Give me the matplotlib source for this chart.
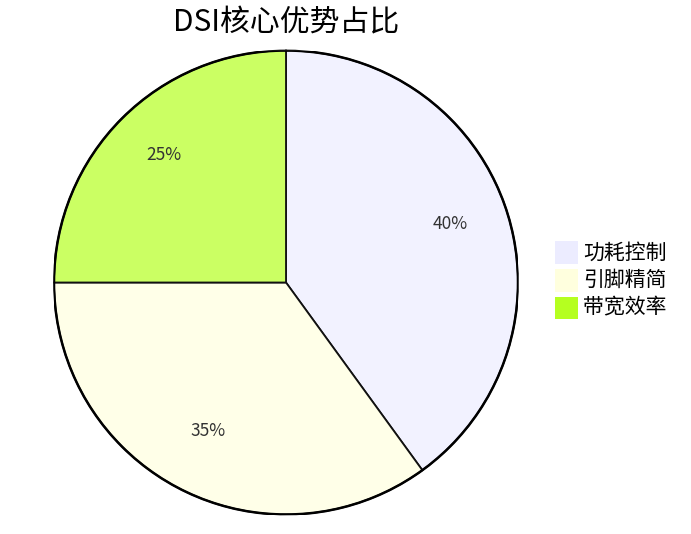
import matplotlib
matplotlib.use("Agg")
import matplotlib.pyplot as plt
from matplotlib.patches import Rectangle, Circle

plt.rcParams['font.family'] = ['Noto Sans CJK SC', 'DejaVu Sans']

title = "DSI核心优势占比"
labels = ["功耗控制", "引脚精简", "带宽效率"]
values = [40, 35, 25]
legend_colors = ["#ececff", "#ffffde", "#b5ff20"]
slice_colors = ["#f2f2ff", "#ffffe8", "#cbff63"]

W, H = 691, 534
fig = plt.figure(figsize=(W / 100, H / 100), dpi=100)
cx, cy, r = 286, 282.5, 232
ax = fig.add_axes([(cx - r) / W, (H - cy - r) / H, 2 * r / W, 2 * r / H])
ax.axis('off')

wedges, texts, autotexts = ax.pie(
    values, colors=slice_colors, startangle=90, counterclock=False,
    radius=1, center=(0, 0), autopct='%1.0f%%', pctdistance=0.745,
    wedgeprops=dict(edgecolor='#111111', linewidth=1.3),
    textprops=dict(fontsize=12.5, color='#333333'))
for t in autotexts:
    x, y = t.get_position()
    t.set_position((x, y + 5.5 / r))
ax.set_xlim(-1, 1)
ax.set_ylim(-1, 1)
ax.add_patch(Circle((0, 0), 1, fill=False, edgecolor='black', linewidth=1.8))

fig.text(cx / W, 1 - 23 / H, title, ha='center', va='center', fontsize=21.5, color='black')

lx, ly0, box, step = 555, 241.5, 22.5, 27.5
for i, (lab, col) in enumerate(zip(labels, legend_colors)):
    y = ly0 + i * step
    fig.add_artist(Rectangle((lx / W, 1 - (y + box) / H), box / W, box / H,
                             transform=fig.transFigure, facecolor=col, edgecolor='none'))
    fig.text((lx + box + 5.5) / W, 1 - (y + box / 2) / H, lab, ha='left', va='center',
             fontsize=15, color='black')

fig.savefig("out.png", dpi=100)
